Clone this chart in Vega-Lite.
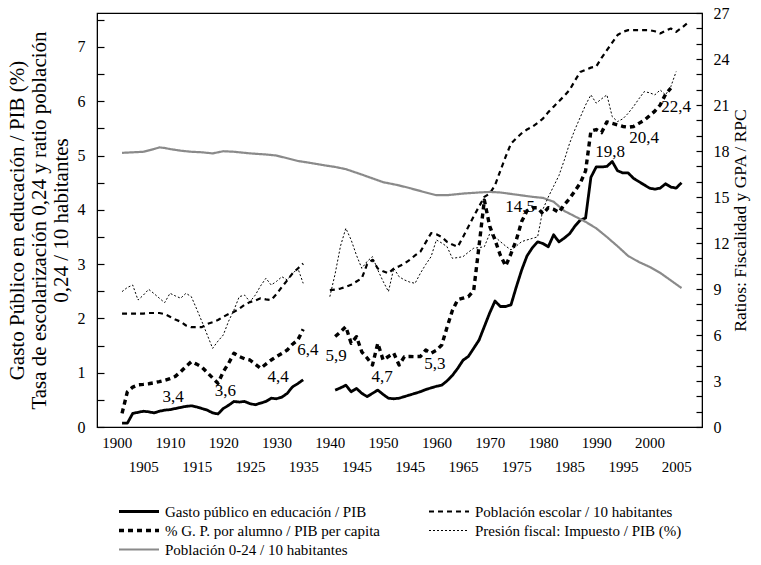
{
"$schema": "https://vega.github.io/schema/vega-lite/v6.json",
"width": 605, "height": 414,
"autosize": "none",
"padding": {"left": 97, "top": 13, "right": 59, "bottom": 138},
"background": "white",
"config": {
 "view": {"stroke": "black", "strokeWidth": 1.2},
 "font": "Liberation Serif"
},
"data": {"values": [
{"s":"G","yr":1901,"v":0.07,"g":1},{"s":"G","yr":1902,"v":0.07,"g":1},{"s":"G","yr":1903,"v":0.25,"g":1},{"s":"G","yr":1904,"v":0.27,"g":1},{"s":"G","yr":1905,"v":0.29,"g":1},{"s":"G","yr":1906,"v":0.28,"g":1},{"s":"G","yr":1907,"v":0.26,"g":1},{"s":"G","yr":1908,"v":0.29,"g":1},{"s":"G","yr":1909,"v":0.31,"g":1},{"s":"G","yr":1910,"v":0.32,"g":1},{"s":"G","yr":1911,"v":0.34,"g":1},{"s":"G","yr":1912,"v":0.36,"g":1},{"s":"G","yr":1913,"v":0.38,"g":1},{"s":"G","yr":1914,"v":0.39,"g":1},{"s":"G","yr":1915,"v":0.37,"g":1},{"s":"G","yr":1916,"v":0.34,"g":1},{"s":"G","yr":1917,"v":0.31,"g":1},{"s":"G","yr":1918,"v":0.26,"g":1},{"s":"G","yr":1919,"v":0.24,"g":1},{"s":"G","yr":1920,"v":0.34,"g":1},{"s":"G","yr":1921,"v":0.4,"g":1},{"s":"G","yr":1922,"v":0.47,"g":1},{"s":"G","yr":1923,"v":0.46,"g":1},{"s":"G","yr":1924,"v":0.47,"g":1},{"s":"G","yr":1925,"v":0.43,"g":1},{"s":"G","yr":1926,"v":0.41,"g":1},{"s":"G","yr":1927,"v":0.44,"g":1},{"s":"G","yr":1928,"v":0.47,"g":1},{"s":"G","yr":1929,"v":0.53,"g":1},{"s":"G","yr":1930,"v":0.52,"g":1},{"s":"G","yr":1931,"v":0.55,"g":1},{"s":"G","yr":1932,"v":0.62,"g":1},{"s":"G","yr":1933,"v":0.74,"g":1},{"s":"G","yr":1934,"v":0.8,"g":1},{"s":"G","yr":1935,"v":0.87,"g":1},
{"s":"G","yr":1941,"v":0.68,"g":2},{"s":"G","yr":1942,"v":0.72,"g":2},{"s":"G","yr":1943,"v":0.77,"g":2},{"s":"G","yr":1944,"v":0.65,"g":2},{"s":"G","yr":1945,"v":0.71,"g":2},{"s":"G","yr":1946,"v":0.62,"g":2},{"s":"G","yr":1947,"v":0.56,"g":2},{"s":"G","yr":1948,"v":0.62,"g":2},{"s":"G","yr":1949,"v":0.68,"g":2},{"s":"G","yr":1950,"v":0.6,"g":2},{"s":"G","yr":1951,"v":0.53,"g":2},{"s":"G","yr":1952,"v":0.52,"g":2},{"s":"G","yr":1953,"v":0.53,"g":2},{"s":"G","yr":1954,"v":0.56,"g":2},{"s":"G","yr":1955,"v":0.59,"g":2},{"s":"G","yr":1956,"v":0.62,"g":2},{"s":"G","yr":1957,"v":0.65,"g":2},{"s":"G","yr":1958,"v":0.69,"g":2},{"s":"G","yr":1959,"v":0.72,"g":2},{"s":"G","yr":1960,"v":0.75,"g":2},{"s":"G","yr":1961,"v":0.77,"g":2},{"s":"G","yr":1962,"v":0.85,"g":2},{"s":"G","yr":1963,"v":0.95,"g":2},{"s":"G","yr":1964,"v":1.08,"g":2},{"s":"G","yr":1965,"v":1.23,"g":2},{"s":"G","yr":1966,"v":1.3,"g":2},{"s":"G","yr":1967,"v":1.45,"g":2},{"s":"G","yr":1968,"v":1.6,"g":2},{"s":"G","yr":1969,"v":1.85,"g":2},{"s":"G","yr":1970,"v":2.1,"g":2},{"s":"G","yr":1971,"v":2.32,"g":2},{"s":"G","yr":1972,"v":2.22,"g":2},{"s":"G","yr":1973,"v":2.22,"g":2},{"s":"G","yr":1974,"v":2.25,"g":2},{"s":"G","yr":1975,"v":2.58,"g":2},{"s":"G","yr":1976,"v":2.89,"g":2},{"s":"G","yr":1977,"v":3.15,"g":2},{"s":"G","yr":1978,"v":3.3,"g":2},{"s":"G","yr":1979,"v":3.41,"g":2},{"s":"G","yr":1980,"v":3.38,"g":2},{"s":"G","yr":1981,"v":3.32,"g":2},{"s":"G","yr":1982,"v":3.54,"g":2},{"s":"G","yr":1983,"v":3.41,"g":2},{"s":"G","yr":1984,"v":3.48,"g":2},{"s":"G","yr":1985,"v":3.56,"g":2},{"s":"G","yr":1986,"v":3.7,"g":2},{"s":"G","yr":1987,"v":3.81,"g":2},{"s":"G","yr":1988,"v":3.85,"g":2},{"s":"G","yr":1989,"v":4.6,"g":2},{"s":"G","yr":1990,"v":4.79,"g":2},{"s":"G","yr":1991,"v":4.79,"g":2},{"s":"G","yr":1992,"v":4.8,"g":2},{"s":"G","yr":1993,"v":4.89,"g":2},{"s":"G","yr":1994,"v":4.72,"g":2},{"s":"G","yr":1995,"v":4.68,"g":2},{"s":"G","yr":1996,"v":4.68,"g":2},{"s":"G","yr":1997,"v":4.58,"g":2},{"s":"G","yr":1998,"v":4.52,"g":2},{"s":"G","yr":1999,"v":4.46,"g":2},{"s":"G","yr":2000,"v":4.4,"g":2},{"s":"G","yr":2001,"v":4.38,"g":2},{"s":"G","yr":2002,"v":4.4,"g":2},{"s":"G","yr":2003,"v":4.48,"g":2},{"s":"G","yr":2004,"v":4.42,"g":2},{"s":"G","yr":2005,"v":4.4,"g":2},{"s":"G","yr":2006,"v":4.5,"g":2},
{"s":"E","yr":1901,"v":2.09,"g":1},{"s":"E","yr":1903,"v":2.09,"g":1},{"s":"E","yr":1905,"v":2.09,"g":1},{"s":"E","yr":1906,"v":2.1,"g":1},{"s":"E","yr":1908,"v":2.1,"g":1},{"s":"E","yr":1909,"v":2.08,"g":1},{"s":"E","yr":1910,"v":2.03,"g":1},{"s":"E","yr":1911,"v":1.98,"g":1},{"s":"E","yr":1912,"v":1.94,"g":1},{"s":"E","yr":1913,"v":1.87,"g":1},{"s":"E","yr":1914,"v":1.84,"g":1},{"s":"E","yr":1916,"v":1.84,"g":1},{"s":"E","yr":1917,"v":1.9,"g":1},{"s":"E","yr":1918,"v":1.93,"g":1},{"s":"E","yr":1919,"v":1.97,"g":1},{"s":"E","yr":1920,"v":2.03,"g":1},{"s":"E","yr":1921,"v":2.08,"g":1},{"s":"E","yr":1922,"v":2.12,"g":1},{"s":"E","yr":1923,"v":2.18,"g":1},{"s":"E","yr":1924,"v":2.25,"g":1},{"s":"E","yr":1925,"v":2.3,"g":1},{"s":"E","yr":1926,"v":2.33,"g":1},{"s":"E","yr":1927,"v":2.37,"g":1},{"s":"E","yr":1928,"v":2.35,"g":1},{"s":"E","yr":1929,"v":2.34,"g":1},{"s":"E","yr":1930,"v":2.45,"g":1},{"s":"E","yr":1931,"v":2.58,"g":1},{"s":"E","yr":1932,"v":2.7,"g":1},{"s":"E","yr":1933,"v":2.83,"g":1},{"s":"E","yr":1934,"v":2.92,"g":1},{"s":"E","yr":1935,"v":3.01,"g":1},
{"s":"E","yr":1940,"v":2.52,"g":2},{"s":"E","yr":1941,"v":2.53,"g":2},{"s":"E","yr":1942,"v":2.55,"g":2},{"s":"E","yr":1943,"v":2.58,"g":2},{"s":"E","yr":1944,"v":2.62,"g":2},{"s":"E","yr":1945,"v":2.68,"g":2},{"s":"E","yr":1946,"v":2.74,"g":2},{"s":"E","yr":1947,"v":3.0,"g":2},{"s":"E","yr":1948,"v":3.08,"g":2},{"s":"E","yr":1949,"v":2.92,"g":2},{"s":"E","yr":1950,"v":2.87,"g":2},{"s":"E","yr":1951,"v":2.83,"g":2},{"s":"E","yr":1952,"v":2.92,"g":2},{"s":"E","yr":1953,"v":2.96,"g":2},{"s":"E","yr":1954,"v":3.01,"g":2},{"s":"E","yr":1955,"v":3.08,"g":2},{"s":"E","yr":1956,"v":3.16,"g":2},{"s":"E","yr":1957,"v":3.23,"g":2},{"s":"E","yr":1958,"v":3.4,"g":2},{"s":"E","yr":1959,"v":3.57,"g":2},{"s":"E","yr":1960,"v":3.55,"g":2},{"s":"E","yr":1961,"v":3.5,"g":2},{"s":"E","yr":1962,"v":3.41,"g":2},{"s":"E","yr":1963,"v":3.36,"g":2},{"s":"E","yr":1964,"v":3.32,"g":2},{"s":"E","yr":1965,"v":3.5,"g":2},{"s":"E","yr":1966,"v":3.69,"g":2},{"s":"E","yr":1967,"v":3.88,"g":2},{"s":"E","yr":1968,"v":4.06,"g":2},{"s":"E","yr":1969,"v":4.24,"g":2},{"s":"E","yr":1970,"v":4.3,"g":2},{"s":"E","yr":1971,"v":4.45,"g":2},{"s":"E","yr":1972,"v":4.72,"g":2},{"s":"E","yr":1973,"v":4.98,"g":2},{"s":"E","yr":1974,"v":5.22,"g":2},{"s":"E","yr":1975,"v":5.32,"g":2},{"s":"E","yr":1976,"v":5.41,"g":2},{"s":"E","yr":1977,"v":5.48,"g":2},{"s":"E","yr":1978,"v":5.53,"g":2},{"s":"E","yr":1979,"v":5.6,"g":2},{"s":"E","yr":1980,"v":5.68,"g":2},{"s":"E","yr":1981,"v":5.8,"g":2},{"s":"E","yr":1982,"v":5.9,"g":2},{"s":"E","yr":1983,"v":6.0,"g":2},{"s":"E","yr":1984,"v":6.1,"g":2},{"s":"E","yr":1985,"v":6.21,"g":2},{"s":"E","yr":1986,"v":6.38,"g":2},{"s":"E","yr":1987,"v":6.54,"g":2},{"s":"E","yr":1988,"v":6.58,"g":2},{"s":"E","yr":1989,"v":6.62,"g":2},{"s":"E","yr":1990,"v":6.64,"g":2},{"s":"E","yr":1991,"v":6.8,"g":2},{"s":"E","yr":1992,"v":6.94,"g":2},{"s":"E","yr":1993,"v":7.08,"g":2},{"s":"E","yr":1994,"v":7.22,"g":2},{"s":"E","yr":1995,"v":7.28,"g":2},{"s":"E","yr":1996,"v":7.31,"g":2},{"s":"E","yr":1998,"v":7.31,"g":2},{"s":"E","yr":2000,"v":7.31,"g":2},{"s":"E","yr":2001,"v":7.29,"g":2},{"s":"E","yr":2002,"v":7.25,"g":2},{"s":"E","yr":2003,"v":7.3,"g":2},{"s":"E","yr":2004,"v":7.34,"g":2},{"s":"E","yr":2005,"v":7.28,"g":2},{"s":"E","yr":2006,"v":7.35,"g":2},{"s":"E","yr":2007,"v":7.43,"g":2},
{"s":"P","yr":1901,"v":5.05,"g":1},{"s":"P","yr":1903,"v":5.06,"g":1},{"s":"P","yr":1905,"v":5.07,"g":1},{"s":"P","yr":1907,"v":5.12,"g":1},{"s":"P","yr":1908,"v":5.15,"g":1},{"s":"P","yr":1909,"v":5.14,"g":1},{"s":"P","yr":1910,"v":5.12,"g":1},{"s":"P","yr":1912,"v":5.09,"g":1},{"s":"P","yr":1914,"v":5.07,"g":1},{"s":"P","yr":1916,"v":5.06,"g":1},{"s":"P","yr":1918,"v":5.04,"g":1},{"s":"P","yr":1920,"v":5.08,"g":1},{"s":"P","yr":1922,"v":5.07,"g":1},{"s":"P","yr":1925,"v":5.04,"g":1},{"s":"P","yr":1928,"v":5.02,"g":1},{"s":"P","yr":1930,"v":5.0,"g":1},{"s":"P","yr":1932,"v":4.95,"g":1},{"s":"P","yr":1934,"v":4.9,"g":1},{"s":"P","yr":1936,"v":4.87,"g":1},{"s":"P","yr":1939,"v":4.82,"g":1},{"s":"P","yr":1941,"v":4.79,"g":1},{"s":"P","yr":1943,"v":4.75,"g":1},{"s":"P","yr":1946,"v":4.65,"g":1},{"s":"P","yr":1948,"v":4.58,"g":1},{"s":"P","yr":1950,"v":4.51,"g":1},{"s":"P","yr":1953,"v":4.45,"g":1},{"s":"P","yr":1955,"v":4.4,"g":1},{"s":"P","yr":1958,"v":4.32,"g":1},{"s":"P","yr":1960,"v":4.27,"g":1},{"s":"P","yr":1962,"v":4.27,"g":1},{"s":"P","yr":1965,"v":4.3,"g":1},{"s":"P","yr":1968,"v":4.32,"g":1},{"s":"P","yr":1970,"v":4.33,"g":1},{"s":"P","yr":1972,"v":4.32,"g":1},{"s":"P","yr":1975,"v":4.28,"g":1},{"s":"P","yr":1978,"v":4.24,"g":1},{"s":"P","yr":1980,"v":4.22,"g":1},{"s":"P","yr":1982,"v":4.15,"g":1},{"s":"P","yr":1984,"v":3.98,"g":1},{"s":"P","yr":1986,"v":3.88,"g":1},{"s":"P","yr":1988,"v":3.78,"g":1},{"s":"P","yr":1990,"v":3.66,"g":1},{"s":"P","yr":1992,"v":3.5,"g":1},{"s":"P","yr":1994,"v":3.33,"g":1},{"s":"P","yr":1996,"v":3.15,"g":1},{"s":"P","yr":1998,"v":3.04,"g":1},{"s":"P","yr":2000,"v":2.95,"g":1},{"s":"P","yr":2002,"v":2.84,"g":1},{"s":"P","yr":2004,"v":2.7,"g":1},{"s":"P","yr":2006,"v":2.56,"g":1},
{"s":"A","yr":1901,"v":0.89,"g":1},{"s":"A","yr":1902,"v":2.3,"g":1},{"s":"A","yr":1903,"v":2.6,"g":1},{"s":"A","yr":1904,"v":2.75,"g":1},{"s":"A","yr":1905,"v":2.78,"g":1},{"s":"A","yr":1906,"v":2.82,"g":1},{"s":"A","yr":1907,"v":2.88,"g":1},{"s":"A","yr":1908,"v":2.96,"g":1},{"s":"A","yr":1909,"v":3.05,"g":1},{"s":"A","yr":1910,"v":3.15,"g":1},{"s":"A","yr":1911,"v":3.3,"g":1},{"s":"A","yr":1912,"v":3.6,"g":1},{"s":"A","yr":1913,"v":3.95,"g":1},{"s":"A","yr":1914,"v":4.26,"g":1},{"s":"A","yr":1915,"v":4.1,"g":1},{"s":"A","yr":1916,"v":3.9,"g":1},{"s":"A","yr":1917,"v":3.55,"g":1},{"s":"A","yr":1918,"v":3.2,"g":1},{"s":"A","yr":1919,"v":2.85,"g":1},{"s":"A","yr":1920,"v":3.6,"g":1},{"s":"A","yr":1921,"v":4.15,"g":1},{"s":"A","yr":1922,"v":4.81,"g":1},{"s":"A","yr":1923,"v":4.6,"g":1},{"s":"A","yr":1924,"v":4.45,"g":1},{"s":"A","yr":1925,"v":4.37,"g":1},{"s":"A","yr":1926,"v":4.1,"g":1},{"s":"A","yr":1927,"v":3.83,"g":1},{"s":"A","yr":1928,"v":4.1,"g":1},{"s":"A","yr":1929,"v":4.37,"g":1},{"s":"A","yr":1930,"v":4.6,"g":1},{"s":"A","yr":1931,"v":4.8,"g":1},{"s":"A","yr":1932,"v":5.02,"g":1},{"s":"A","yr":1933,"v":5.4,"g":1},{"s":"A","yr":1934,"v":5.68,"g":1},{"s":"A","yr":1935,"v":6.37,"g":1},
{"s":"A","yr":1941,"v":5.9,"g":2},{"s":"A","yr":1942,"v":6.2,"g":2},{"s":"A","yr":1943,"v":6.54,"g":2},{"s":"A","yr":1944,"v":5.46,"g":2},{"s":"A","yr":1945,"v":5.89,"g":2},{"s":"A","yr":1946,"v":4.9,"g":2},{"s":"A","yr":1947,"v":4.5,"g":2},{"s":"A","yr":1948,"v":4.04,"g":2},{"s":"A","yr":1949,"v":5.46,"g":2},{"s":"A","yr":1950,"v":4.37,"g":2},{"s":"A","yr":1951,"v":4.6,"g":2},{"s":"A","yr":1952,"v":4.81,"g":2},{"s":"A","yr":1953,"v":4.04,"g":2},{"s":"A","yr":1954,"v":4.59,"g":2},{"s":"A","yr":1955,"v":4.6,"g":2},{"s":"A","yr":1956,"v":4.59,"g":2},{"s":"A","yr":1957,"v":4.6,"g":2},{"s":"A","yr":1958,"v":5.02,"g":2},{"s":"A","yr":1959,"v":4.81,"g":2},{"s":"A","yr":1960,"v":5.0,"g":2},{"s":"A","yr":1961,"v":5.35,"g":2},{"s":"A","yr":1962,"v":6.5,"g":2},{"s":"A","yr":1963,"v":7.6,"g":2},{"s":"A","yr":1964,"v":8.3,"g":2},{"s":"A","yr":1965,"v":8.4,"g":2},{"s":"A","yr":1966,"v":8.5,"g":2},{"s":"A","yr":1967,"v":8.9,"g":2},{"s":"A","yr":1968,"v":11.8,"g":2},{"s":"A","yr":1969,"v":14.8,"g":2},{"s":"A","yr":1970,"v":13.1,"g":2},{"s":"A","yr":1971,"v":12.2,"g":2},{"s":"A","yr":1972,"v":11.2,"g":2},{"s":"A","yr":1973,"v":10.5,"g":2},{"s":"A","yr":1974,"v":11.3,"g":2},{"s":"A","yr":1975,"v":12.2,"g":2},{"s":"A","yr":1976,"v":13.4,"g":2},{"s":"A","yr":1977,"v":14.1,"g":2},{"s":"A","yr":1978,"v":14.3,"g":2},{"s":"A","yr":1979,"v":14.3,"g":2},{"s":"A","yr":1980,"v":13.9,"g":2},{"s":"A","yr":1981,"v":14.3,"g":2},{"s":"A","yr":1982,"v":14.2,"g":2},{"s":"A","yr":1983,"v":14.0,"g":2},{"s":"A","yr":1984,"v":14.5,"g":2},{"s":"A","yr":1985,"v":14.9,"g":2},{"s":"A","yr":1986,"v":15.4,"g":2},{"s":"A","yr":1987,"v":15.9,"g":2},{"s":"A","yr":1988,"v":16.7,"g":2},{"s":"A","yr":1989,"v":19.3,"g":2},{"s":"A","yr":1990,"v":19.4,"g":2},{"s":"A","yr":1991,"v":19.2,"g":2},{"s":"A","yr":1992,"v":19.9,"g":2},{"s":"A","yr":1993,"v":19.8,"g":2},{"s":"A","yr":1994,"v":19.7,"g":2},{"s":"A","yr":1995,"v":19.6,"g":2},{"s":"A","yr":1996,"v":19.55,"g":2},{"s":"A","yr":1997,"v":19.6,"g":2},{"s":"A","yr":1998,"v":19.8,"g":2},{"s":"A","yr":1999,"v":20.0,"g":2},{"s":"A","yr":2000,"v":20.3,"g":2},{"s":"A","yr":2001,"v":20.6,"g":2},{"s":"A","yr":2002,"v":21.0,"g":2},{"s":"A","yr":2003,"v":21.7,"g":2},{"s":"A","yr":2004,"v":22.1,"g":2},
{"s":"F","yr":1901,"v":8.83,"g":1},{"s":"F","yr":1902,"v":9.1,"g":1},{"s":"F","yr":1903,"v":9.26,"g":1},{"s":"F","yr":1904,"v":8.28,"g":1},{"s":"F","yr":1905,"v":8.6,"g":1},{"s":"F","yr":1906,"v":8.98,"g":1},{"s":"F","yr":1907,"v":8.7,"g":1},{"s":"F","yr":1908,"v":8.4,"g":1},{"s":"F","yr":1909,"v":8.11,"g":1},{"s":"F","yr":1910,"v":8.72,"g":1},{"s":"F","yr":1911,"v":8.55,"g":1},{"s":"F","yr":1912,"v":8.4,"g":1},{"s":"F","yr":1913,"v":8.72,"g":1},{"s":"F","yr":1914,"v":8.5,"g":1},{"s":"F","yr":1915,"v":7.7,"g":1},{"s":"F","yr":1916,"v":6.87,"g":1},{"s":"F","yr":1917,"v":6.0,"g":1},{"s":"F","yr":1918,"v":5.13,"g":1},{"s":"F","yr":1919,"v":5.6,"g":1},{"s":"F","yr":1920,"v":6.0,"g":1},{"s":"F","yr":1921,"v":6.9,"g":1},{"s":"F","yr":1922,"v":7.63,"g":1},{"s":"F","yr":1923,"v":8.5,"g":1},{"s":"F","yr":1924,"v":8.6,"g":1},{"s":"F","yr":1925,"v":8.17,"g":1},{"s":"F","yr":1926,"v":8.6,"g":1},{"s":"F","yr":1927,"v":9.2,"g":1},{"s":"F","yr":1928,"v":9.7,"g":1},{"s":"F","yr":1929,"v":9.26,"g":1},{"s":"F","yr":1930,"v":9.5,"g":1},{"s":"F","yr":1931,"v":9.8,"g":1},{"s":"F","yr":1932,"v":9.59,"g":1},{"s":"F","yr":1933,"v":10.0,"g":1},{"s":"F","yr":1934,"v":10.35,"g":1},{"s":"F","yr":1935,"v":9.37,"g":1},
{"s":"F","yr":1940,"v":8.5,"g":2},{"s":"F","yr":1941,"v":10.0,"g":2},{"s":"F","yr":1942,"v":11.8,"g":2},{"s":"F","yr":1943,"v":12.96,"g":2},{"s":"F","yr":1944,"v":12.2,"g":2},{"s":"F","yr":1945,"v":11.2,"g":2},{"s":"F","yr":1946,"v":10.35,"g":2},{"s":"F","yr":1947,"v":10.8,"g":2},{"s":"F","yr":1948,"v":11.11,"g":2},{"s":"F","yr":1949,"v":10.24,"g":2},{"s":"F","yr":1950,"v":9.5,"g":2},{"s":"F","yr":1951,"v":8.83,"g":2},{"s":"F","yr":1952,"v":10.35,"g":2},{"s":"F","yr":1953,"v":9.8,"g":2},{"s":"F","yr":1954,"v":9.59,"g":2},{"s":"F","yr":1955,"v":9.45,"g":2},{"s":"F","yr":1956,"v":9.37,"g":2},{"s":"F","yr":1957,"v":10.03,"g":2},{"s":"F","yr":1958,"v":10.6,"g":2},{"s":"F","yr":1959,"v":11.11,"g":2},{"s":"F","yr":1960,"v":12.2,"g":2},{"s":"F","yr":1961,"v":12.0,"g":2},{"s":"F","yr":1962,"v":11.76,"g":2},{"s":"F","yr":1963,"v":11.0,"g":2},{"s":"F","yr":1964,"v":11.05,"g":2},{"s":"F","yr":1965,"v":11.11,"g":2},{"s":"F","yr":1966,"v":11.4,"g":2},{"s":"F","yr":1967,"v":11.66,"g":2},{"s":"F","yr":1968,"v":11.7,"g":2},{"s":"F","yr":1969,"v":11.76,"g":2},{"s":"F","yr":1970,"v":12.6,"g":2},{"s":"F","yr":1971,"v":12.4,"g":2},{"s":"F","yr":1972,"v":12.09,"g":2},{"s":"F","yr":1973,"v":11.8,"g":2},{"s":"F","yr":1974,"v":11.55,"g":2},{"s":"F","yr":1975,"v":11.8,"g":2},{"s":"F","yr":1976,"v":12.09,"g":2},{"s":"F","yr":1977,"v":12.2,"g":2},{"s":"F","yr":1978,"v":12.3,"g":2},{"s":"F","yr":1979,"v":12.4,"g":2},{"s":"F","yr":1980,"v":14.2,"g":2},{"s":"F","yr":1981,"v":15.0,"g":2},{"s":"F","yr":1982,"v":15.7,"g":2},{"s":"F","yr":1983,"v":16.4,"g":2},{"s":"F","yr":1984,"v":17.4,"g":2},{"s":"F","yr":1985,"v":18.5,"g":2},{"s":"F","yr":1986,"v":19.4,"g":2},{"s":"F","yr":1987,"v":20.2,"g":2},{"s":"F","yr":1988,"v":21.0,"g":2},{"s":"F","yr":1989,"v":21.66,"g":2},{"s":"F","yr":1990,"v":21.12,"g":2},{"s":"F","yr":1991,"v":21.4,"g":2},{"s":"F","yr":1992,"v":21.66,"g":2},{"s":"F","yr":1993,"v":20.24,"g":2},{"s":"F","yr":1994,"v":19.92,"g":2},{"s":"F","yr":1995,"v":20.1,"g":2},{"s":"F","yr":1996,"v":20.46,"g":2},{"s":"F","yr":1997,"v":20.9,"g":2},{"s":"F","yr":1998,"v":21.4,"g":2},{"s":"F","yr":1999,"v":21.87,"g":2},{"s":"F","yr":2000,"v":21.8,"g":2},{"s":"F","yr":2001,"v":21.66,"g":2},{"s":"F","yr":2002,"v":21.98,"g":2},{"s":"F","yr":2003,"v":21.66,"g":2},{"s":"F","yr":2004,"v":22.2,"g":2},{"s":"F","yr":2005,"v":23.18,"g":2}
]},
"layer": [
 {
  "transform": [{"filter": "datum.s == 'G' || datum.s == 'E' || datum.s == 'P'"}],
  "mark": {"type": "line", "strokeCap": "butt", "strokeJoin": "round"},
  "encoding": {
   "x": {"field": "yr", "type": "quantitative", "scale": {"domain": [1896.3, 2009.85], "nice": false, "zero": false},
     "axis": {"orient": "bottom", "title": null, "values": [1900,1905,1910,1915,1920,1925,1930,1935,1940,1945,1950,1955,1960,1965,1970,1975,1980,1985,1990,1995,2000,2005], "tickCount": 40,
       "labelExpr": "datum.value % 10 == 0 ? format(datum.value, 'd') : ['', datum.value == 1955 ? '1945' : format(datum.value, 'd')]",
       "labelLineHeight": 24, "labelBaseline": "top",
       "ticks": false, "labelPadding": 8, "labelFontSize": 15, "labelFont": "Liberation Serif", "labelColor": "black", "labelOverlap": false, "labelFlush": false, "grid": false, "domainColor": "black"}},
   "y": {"field": "v", "type": "quantitative", "scale": {"domain": [0, 7.626], "nice": false, "zero": true},
     "axis": {"orient": "left", "values": [0,0.5,1,1.5,2,2.5,3,3.5,4,4.5,5,5.5,6,6.5,7,7.5], "tickCount": 40,
       "labelExpr": "datum.value % 1 == 0 ? format(datum.value, 'd') : ''", "ticks": true, "tickSize": -7, "tickColor": "black", "tickWidth": 1.2, "tickOpacity": 1, "labelPadding": 19, "labelFontSize": 16, "labelFont": "Liberation Serif", "labelColor": "black", "labelOverlap": false, "grid": false, "domainColor": "black",
       "title": ["Gasto Público en educación / PIB (%)", "Tasa de escolarización 0,24 y ratio población", "0,24 / 10 habitantes"],
       "titleFont": "Liberation Serif", "titleColor": "black", "titleFontWeight": "normal", "titleFontSize": 21, "titleLineHeight": 22, "titlePadding": 6}},
   "color": {"field": "s", "type": "nominal", "scale": {"domain": ["G","A","P","E","F"], "range": ["#000000","#000000","#8a8a8a","#000000","#000000"]},
     "legend": {"title": null, "orient": "none", "legendX": 20, "legendY": 489, "columns": 2, "columnPadding": 47, "symbolType": "stroke", "symbolSize": 1600, "clipHeight": 19, "rowPadding": 0, "labelFont": "Liberation Serif", "labelColor": "black", "labelFontSize": 15, "labelOffset": 4, "labelLimit": 0,
       "labelExpr": "datum.value == 'G' ? 'Gasto público en educación / PIB' : datum.value == 'E' ? 'Población escolar / 10 habitantes' : datum.value == 'A' ? '% G. P. por alumno / PIB per capita' : datum.value == 'F' ? 'Presión fiscal: Impuesto / PIB (%)' : 'Población 0-24 / 10 habitantes'"}},
   "strokeDash": {"field": "s", "type": "nominal", "scale": {"domain": ["G","A","P","E","F"], "range": [[1,0],[5,4],[1,0],[5,4],[2,2]]}},
   "strokeWidth": {"field": "s", "type": "nominal", "scale": {"type": "ordinal", "domain": ["G","A","P","E","F"], "range": [2.8,3.4,2.2,2.2,1]}},
   "detail": {"field": "g", "type": "nominal"}
  }
 },
 {
  "transform": [{"filter": "datum.s == 'A' || datum.s == 'F'"}],
  "mark": {"type": "line", "strokeCap": "butt", "strokeJoin": "round"},
  "encoding": {
   "x": {"field": "yr", "type": "quantitative", "scale": {"domain": [1896.3, 2009.85], "nice": false, "zero": false}},
   "y": {"field": "v", "type": "quantitative", "scale": {"domain": [0, 27], "nice": false, "zero": true},
     "axis": {"orient": "right", "values": [0,1,2,3,4,5,6,7,8,9,10,11,12,13,14,15,16,17,18,19,20,21,22,23,24,25,26,27], "tickCount": 60,
       "labelExpr": "datum.value % 3 == 0 ? format(datum.value, 'd') : ''", "ticks": true, "tickSize": -6, "tickColor": "black", "tickWidth": 1.2, "tickOpacity": 1, "labelPadding": 17, "labelFontSize": 16, "labelFont": "Liberation Serif", "labelColor": "black", "labelOverlap": false, "grid": false, "domainColor": "black",
       "title": "Ratios: Fiscalidad y GPA / RPC", "titleFont": "Liberation Serif", "titleColor": "black", "titleFontWeight": "normal", "titleFontSize": 17.5, "titleAngle": 270, "titleBaseline": "top", "titlePadding": 2}},
   "color": {"field": "s", "type": "nominal", "scale": {"domain": ["G","A","P","E","F"], "range": ["#000000","#000000","#8a8a8a","#000000","#000000"]}},
   "strokeDash": {"field": "s", "type": "nominal", "scale": {"domain": ["G","A","P","E","F"], "range": [[1,0],[5,4],[1,0],[5,4],[2,2]]}},
   "strokeWidth": {"field": "s", "type": "nominal", "scale": {"type": "ordinal", "domain": ["G","A","P","E","F"], "range": [2.8,3.4,2.2,2.2,1]}},
   "detail": {"field": "g", "type": "nominal"}
  }
 },
 {
  "data": {"values": [
   {"lab":"3,4","yr":1910.6,"v":1.96},{"lab":"3,6","yr":1920.4,"v":2.35},{"lab":"4,4","yr":1930.3,"v":3.26},{"lab":"6,4","yr":1935.9,"v":5.02},{"lab":"5,9","yr":1941.2,"v":4.63},{"lab":"4,7","yr":1949.8,"v":3.26},{"lab":"5,3","yr":1959.7,"v":4.11},{"lab":"14,5","yr":1975.7,"v":14.33},{"lab":"19,8","yr":1992.6,"v":17.94},{"lab":"20,4","yr":1999.0,"v":18.85},{"lab":"22,4","yr":2005.0,"v":20.87}
  ]},
  "mark": {"type": "text", "font": "Liberation Serif", "fontSize": 17, "align": "center", "baseline": "middle", "color": "black"},
  "encoding": {
   "x": {"field": "yr", "type": "quantitative", "scale": {"domain": [1896.3, 2009.85], "nice": false, "zero": false}},
   "y": {"field": "v", "type": "quantitative", "scale": {"domain": [0, 27], "nice": false, "zero": true}, "axis": null},
   "text": {"field": "lab", "type": "nominal"}
  }
 }
],
"resolve": {"scale": {"y": "independent"}}
}
